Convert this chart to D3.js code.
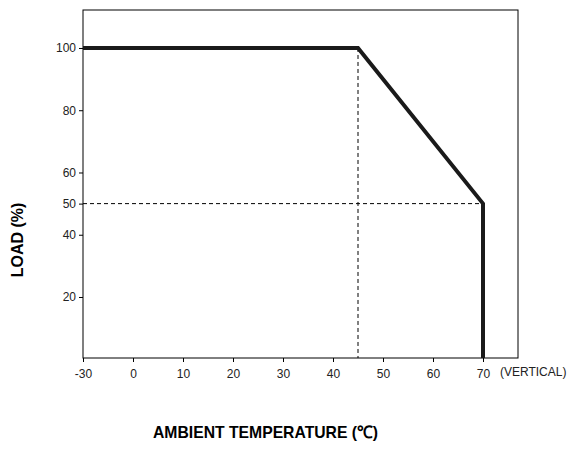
<!DOCTYPE html>
<html><head><meta charset="utf-8">
<script src="https://cdn.jsdelivr.net/npm/d3@7"></script>
<style>body{margin:0;background:#fff}</style></head>
<body><svg id="c" width="569" height="451"></svg>
<script>
const xTicks = [-30, 0, 10, 20, 30, 40, 50, 60, 70];
const yTicks = [20, 40, 50, 60, 80, 100];
const curveTemp = [-30, 45, 70, 70];
const curveLoad = [100, 100, 50, 0];
const refTemp = 45, refLoad = 50;

const svg = d3.select("#c");
const x = d3.scaleLinear().domain([-30, 0, 77]).range([83, 133, 518]);
const y = d3.scaleLinear().domain([0, 112.2]).range([359.25, 10]);
const L = 83, R = 518, T = 10, B = 358;
const font = "Liberation Sans, Arial, sans-serif";

svg.append("rect").attr("x", L).attr("y", T).attr("width", R - L).attr("height", B - T)
  .attr("fill", "none").attr("stroke", "#000").attr("stroke-width", 1);

const xa = svg.append("g").attr("transform", `translate(0,${B})`)
  .call(d3.axisBottom(x).tickValues(xTicks).tickSize(4).tickFormat(d => String(d)));
const ya = svg.append("g").attr("transform", `translate(${L},0)`)
  .call(d3.axisLeft(y).tickValues(yTicks).tickSize(4));
[xa, ya].forEach(a => {
  a.select(".domain").remove();
  a.selectAll("text").attr("font-family", font).attr("font-size", 12).attr("fill", "#222");
});
xa.selectAll("text").attr("dy", "1.1em");

const dash = svg.append("g").attr("stroke", "#000").attr("stroke-dasharray", "4,3").attr("stroke-width", 1);
dash.append("line").attr("x1", x(refTemp)).attr("x2", x(refTemp)).attr("y1", y(100)).attr("y2", B);
dash.append("line").attr("x1", L).attr("x2", x(70)).attr("y1", y(refLoad)).attr("y2", y(refLoad));

const pts = curveTemp.map((t, i) => [x(t), Math.min(y(curveLoad[i]), B)]);
svg.append("path").attr("d", d3.line()(pts)).attr("fill", "none")
  .attr("stroke", "#1a1a1a").attr("stroke-width", 4).attr("stroke-linejoin", "miter");

svg.append("text").attr("x", 500).attr("y", 376).attr("font-family", font).attr("font-size", 12)
  .attr("fill", "#222").text("(VERTICAL)");
svg.append("text").attr("transform", "translate(23,240) rotate(-90)").attr("text-anchor", "middle")
  .attr("font-family", font).attr("font-size", 16).attr("font-weight", "bold").text("LOAD (%)");
svg.append("text").attr("x", 153).attr("y", 438)
  .attr("font-family", font).attr("font-size", 17).attr("font-weight", "bold")
  .attr("textLength", 225).attr("lengthAdjust", "spacingAndGlyphs").text("AMBIENT TEMPERATURE (℃)");
</script></body></html>
